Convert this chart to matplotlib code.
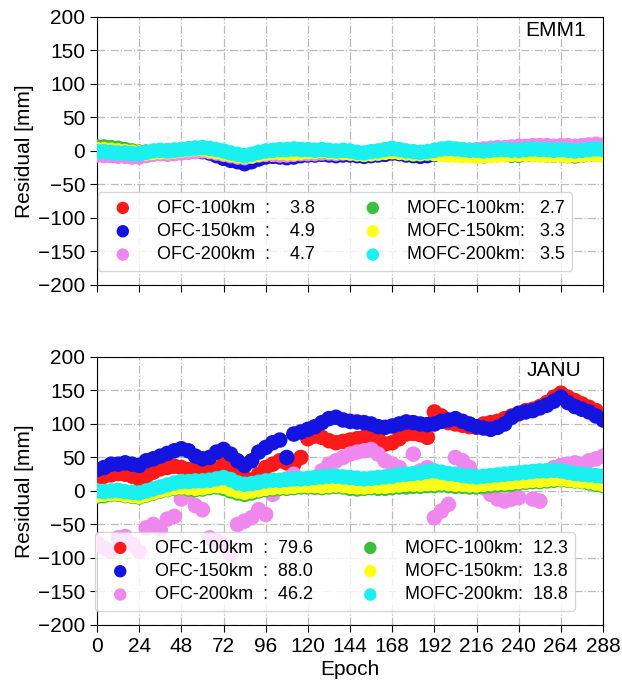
import numpy as np
import matplotlib
matplotlib.use("Agg")
import matplotlib.pyplot as plt

plt.rcParams['font.family'] = ['Liberation Sans', 'DejaVu Sans']

# epochs sampled every 4
epoch = np.arange(0, 289, 4)

# ---- EMM1 residuals [mm]
emm1_ofc100 = [5, 5, 4, 3, 1, -1, -2, -2,
               -1, 0, -1, 0, 1, 2, 3, 3,
               1, -2, -5, -8, -10, -12, -10, -7,
               -5, -4, -4, -5, -4, -3, -3, -3,
               -2, -3, -4, -3, -4, -5, -6, -5,
               -4, -3, -2, -3, -5, -6, -7, -6,
               -4, -3, -2, -3, -4, -5, -5, -6,
               -5, -4, -4, -5, -5, -4, -3, -4,
               -4, -5, -4, -5, -6, -5, -4, -3,
               -4]
emm1_ofc150 = [-4, -5, -6, -6, -7, -8, -8, -6,
               -4, -3, -4, -3, -2, -1, 0, -1,
               -3, -7, -11, -14, -16, -19, -16, -12,
               -9, -8, -9, -10, -9, -7, -6, -6,
               -5, -6, -7, -6, -6, -7, -8, -7,
               -6, -5, -3, -4, -6, -7, -8, -7,
               -5, -4, -3, -4, -5, -6, -6, -7,
               -6, -5, -5, -6, -6, -5, -4, -5,
               -5, -6, -5, -6, -7, -6, -5, -4,
               -5]
emm1_ofc200 = [-6, -7, -7, -8, -8, -9, -9, -7,
               -5, -4, -5, -4, -3, -2, -1, 0,
               -1, -3, -5, -7, -9, -10, -8, -6,
               -5, -5, -6, -6, -5, -4, -4, -4,
               -3, -3, -4, -3, -3, -4, -5, -4,
               -3, -1, 1, 0, -2, -3, -3, -2,
               0, 2, 3, 2, 2, 1, 2, 3,
               4, 5, 5, 6, 7, 7, 8, 8,
               8, 7, 8, 8, 7, 8, 9, 10,
               9]
emm1_mofc100 = [6, 6, 5, 4, 2, 0, -2, -2,
                -1, 0, 0, 1, 2, 3, 4, 4,
                2, 0, -2, -4, -6, -8, -6, -4,
                -2, -1, -1, -2, -2, -1, -1, -1,
                0, -1, -2, -1, -2, -3, -4, -3,
                -2, -1, 0, -1, -3, -4, -4, -3,
                -2, -3, -4, -4, -5, -6, -6, -6,
                -6, -5, -5, -6, -6, -5, -5, -5,
                -6, -6, -6, -7, -7, -6, -5, -5,
                -5]
emm1_mofc150 = [2, 2, 1, 0, -1, -2, -3, -3,
                -2, -1, -1, 0, 1, 2, 3, 3,
                1, -1, -3, -5, -7, -8, -7, -5,
                -3, -2, -2, -3, -3, -2, -1, -1,
                0, -1, -2, -2, -3, -4, -5, -4,
                -3, -2, -1, -2, -3, -4, -4, -3,
                -4, -5, -6, -6, -7, -7, -8, -7,
                -7, -6, -6, -5, -5, -5, -5, -6,
                -6, -6, -6, -7, -6, -6, -5, -5,
                -6]
emm1_mofc200 = [-1, -1, -2, -3, -3, -4, -4, -2,
                0, 1, 0, 1, 2, 3, 4, 5,
                4, 2, 0, -3, -5, -7, -5, -2,
                0, 1, 2, 2, 3, 2, 2, 1,
                2, 1, 0, 1, 0, -2, -3, -1,
                0, 2, 4, 2, 0, -1, -2, -1,
                1, 3, 4, 3, 2, 1, 1, 0,
                1, 2, 2, 1, 1, 2, 3, 2,
                2, 1, 2, 1, 0, 1, 2, 3,
                2]

# ---- JANU residuals [mm]
janu_ofc100 = [20, 22, 24, 26, 25, 22, 18, 22,
               28, 33, 35, 37, 35, 32, 30, 30,
               28, 33, 40, 35, 28, 20, 16, 25,
               35, 40, 45, 42, 40, 50, 78, 82,
               80, 75, 72, 74, 76, 78, 80, 82,
               78, 70, 72, 78, 85, 86, 84, 80,
               118, 112, 102, 100, 98, 96, 95, 100,
               102, 104, 108, 112, 115, 120, 122, 126,
               132, 140, 146, 140, 135, 130, 125, 120,
               112]
janu_ofc150 = [32, 35, 40, 40, 42, 40, 38, 45,
               48, 52, 56, 60, 63, 60, 52, 48,
               50, 58, 62, 55, 45, 38, 45, 58,
               65, 72, 76, 50, 85, 88, 92, 96,
               102, 108, 110, 106, 104, 103, 102, 100,
               96, 95, 97, 100, 103, 102, 100, 99,
               100, 104, 106, 108, 104, 100, 96, 94,
               92, 95, 100, 110, 116, 118, 120, 124,
               128, 134, 140, 132, 126, 122, 118, 112,
               106]
janu_ofc200 = [-78, -85, -90, -70, -68, -80, -90, -55,
               -50, -58, -42, -38, -12, -5, -22, -28,
               -70, -75, -80, -95, -50, -45, -40, -28,
               -35, -5, 5, 18, 25, 15, 12, 5,
               30, 40, 45, 50, 55, 58, 60, 62,
               55, 45, 40, 35, 20, 55, 30, 35,
               -40, -30, -20, 50, 45, 35, 20, 5,
               -5, -12, -15, -12, -10, 15, -12, -15,
               30, 35, 38, 40, 42, 40, 45, 48,
               52]
janu_mofc100 = [-8, -7, -5, -5, -7, -8, -9, -6,
                -3, 0, 2, 4, 5, 3, 2, 3,
                5, 6, 4, 0, -3, -5, -3, 0,
                2, 3, 4, 4, 5, 6, 6, 6,
                5, 6, 7, 6, 4, 3, 4, 5,
                4, 4, 5, 6, 6, 7, 7, 8,
                8, 9, 8, 7, 7, 6, 6, 7,
                8, 9, 9, 10, 12, 13, 14, 14,
                15, 16, 17, 16, 15, 14, 12, 10,
                8]
janu_mofc150 = [-6, -5, -4, -4, -6, -7, -8, -5,
                -2, 1, 3, 5, 6, 5, 4, 5,
                7, 8, 7, 3, 0, -2, 0, 2,
                4, 5, 6, 6, 7, 8, 8, 8,
                7, 8, 9, 8, 7, 6, 6, 7,
                7, 7, 8, 9, 10, 10, 10, 11,
                11, 12, 11, 10, 10, 9, 9, 10,
                11, 12, 12, 13, 14, 15, 16, 16,
                17, 18, 18, 17, 16, 15, 14, 12,
                10]
janu_mofc200 = [0, -1, 0, 1, -1, -2, -3, 0,
                3, 6, 9, 12, 14, 14, 15, 15,
                16, 18, 20, 17, 12, 10, 11, 13,
                15, 16, 16, 17, 18, 18, 19, 20,
                21, 22, 22, 21, 20, 19, 18, 19,
                20, 21, 22, 24, 25, 26, 27, 29,
                30, 28, 26, 25, 23, 22, 21, 22,
                23, 24, 25, 26, 27, 28, 29, 30,
                30, 31, 30, 28, 26, 25, 24, 23,
                22]

names = ['OFC-100km  :', 'OFC-150km  :', 'OFC-200km  :',
         'MOFC-100km:', 'MOFC-150km:', 'MOFC-200km:']
colors = ['#ff1a1a', '#1414e0', '#ee88ee', '#3cbf3c', '#ffff1a', '#1af0f0']
emm1_rms = ['3.8', '4.9', '4.7', '2.7', '3.3', '3.5']
janu_rms = ['79.6', '88.0', '46.2', '12.3', '13.8', '18.8']

stations = [
    ('EMM1', [emm1_ofc100, emm1_ofc150, emm1_ofc200, emm1_mofc100, emm1_mofc150, emm1_mofc200], emm1_rms, 0.967),
    ('JANU', [janu_ofc100, janu_ofc150, janu_ofc200, janu_mofc100, janu_mofc150, janu_mofc200], janu_rms, 0.958),
]

fig = plt.figure(figsize=(6.22, 6.8), dpi=100)
ax_top = fig.add_axes([0.156, 0.581, 0.8135, 0.394])
ax_bot = fig.add_axes([0.156, 0.081, 0.8135, 0.394])

for ax, (name, series, rms, tx) in zip([ax_top, ax_bot], stations):
    for vals, lab, c, r in zip(series, names, colors, rms):
        gap = '    ' if len(r) == 3 else '  '
        if lab.startswith('M'):
            gap = '   ' if len(r) == 3 else '  '
        ax.scatter(epoch, vals, s=125, color=c, edgecolors='none', label=lab + gap + r, zorder=3)
    ax.set_xlim(0, 288)
    ax.set_ylim(-200, 200)
    ax.set_xticks(range(0, 289, 24))
    ax.set_yticks(range(-200, 201, 50))
    ax.grid(True, linestyle='-.', color='#bbbbbb', linewidth=0.9)
    ax.set_axisbelow(True)
    ax.tick_params(labelsize=15, length=5)
    ax.set_ylabel('Residual [mm]', fontsize=15, labelpad=3)
    ax.text(tx, 0.95, name, transform=ax.transAxes, ha='right', va='center', fontsize=15)
    leg = ax.legend(ncol=2, loc='lower center', bbox_to_anchor=(0.47, 0.02), fontsize=13,
                    handletextpad=0.9, columnspacing=2.2, labelspacing=0.35,
                    borderpad=0.4, framealpha=0.8, scatterpoints=1, markerscale=0.8)
    leg.get_frame().set_edgecolor('#cccccc')

ax_top.set_xticklabels([])
ax_bot.set_xlabel('Epoch', fontsize=15, labelpad=3)

fig.savefig('out.png', dpi=100)
